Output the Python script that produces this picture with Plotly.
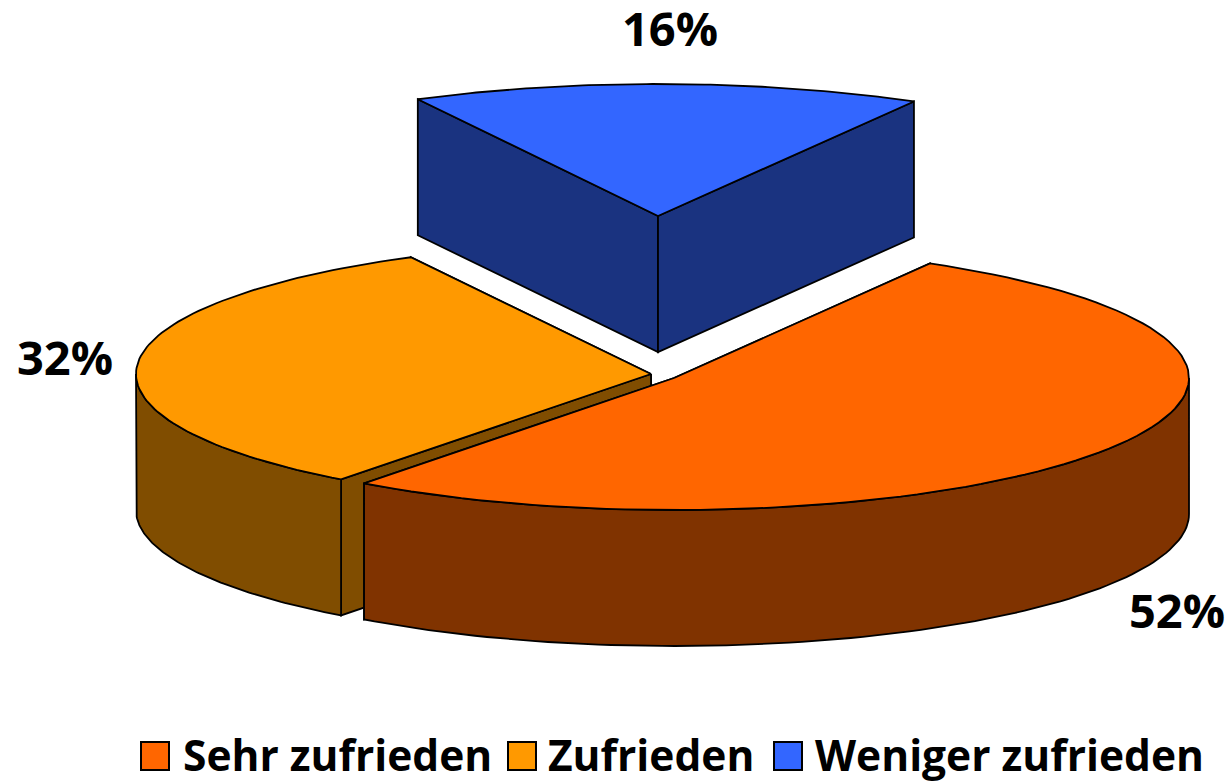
import numpy as np
import plotly.graph_objects as go

categories = ["Sehr zufrieden", "Zufrieden", "Weniger zufrieden"]
values = [52, 32, 16]
top_colors = ["#FF6600", "#FF9900", "#3366FF"]
wall_colors = ["#803300", "#804D00", "#1A3380"]

START_DEG = 29.8
RX, RY, DEPTH = 515, 132, 136
APEX = {"Sehr zufrieden": (674, 378), "Zufrieden": (651, 374), "Weniger zufrieden": (658, 216)}
LABEL_POS = {"Sehr zufrieden": (1177, 616), "Zufrieden": (65, 363), "Weniger zufrieden": (670, 34)}
LEGEND_SWATCH = {"Sehr zufrieden": 155, "Zufrieden": 522, "Weniger zufrieden": 788}
LEGEND_TEXT = {"Sehr zufrieden": 183, "Zufrieden": 548, "Weniger zufrieden": 815}
LEGEND_Y = 760
SWATCH_Y = 756
FONT = "Open Sans, Noto Sans, sans-serif"


def arc(cx, cy, a0, a1, n=90):
    th = np.radians(np.linspace(a0, a1, n))
    return cx + RX * np.sin(th), cy - RY * np.cos(th)


def poly(x, y, color):
    return go.Scatter(x=np.r_[x, x[0]], y=np.r_[y, y[0]], mode="lines", fill="toself",
                      fillcolor=color, line=dict(color="black", width=1.8),
                      hoverinfo="skip", showlegend=False)


spans = {}
a = START_DEG
for c, v in zip(categories, values):
    spans[c] = (a, a + v * 3.6)
    a += v * 3.6

fig = go.Figure()
for i in [2, 1, 0]:
    c = categories[i]
    a0, a1 = spans[c]
    cx, cy = APEX[c]
    wall, top = wall_colors[i], top_colors[i]
    xa, ya = arc(cx, cy, a0, a1)
    # cut faces: the one lying further back first
    for ang in sorted((a0, a1), key=lambda t: -np.cos(np.radians(t))):
        ex, ey = arc(cx, cy, ang, ang, 1)
        fx = np.array([cx, ex[0], ex[0], cx])
        fy = np.array([cy, ey[0], ey[0] + DEPTH, cy + DEPTH])
        fig.add_trace(poly(fx, fy, wall))
    # outer wall, only the part facing the viewer (90..270 degrees)
    lo, hi = max(a0, 90), min(a1, 270)
    if hi > lo:
        xw, yw = arc(cx, cy, lo, hi)
        fig.add_trace(poly(np.r_[xw, xw[::-1]], np.r_[yw, yw[::-1] + DEPTH], wall))
    fig.add_trace(poly(np.r_[cx, xa], np.r_[cy, ya], top))

for i, c in enumerate(categories):
    lx, ly = LABEL_POS[c]
    fig.add_trace(go.Scatter(x=[lx], y=[ly], mode="text", text=[f"{values[i]}%"],
                             textposition="middle center",
                             textfont=dict(family=FONT, size=47, color="black", weight="bold"),
                             hoverinfo="skip", showlegend=False))
    fig.add_trace(go.Scatter(x=[LEGEND_SWATCH[c]], y=[SWATCH_Y], mode="markers",
                             marker=dict(symbol="square", size=28, color=top_colors[i],
                                         line=dict(color="black", width=2)),
                             hoverinfo="skip", showlegend=False))
    fig.add_trace(go.Scatter(x=[LEGEND_TEXT[c]], y=[LEGEND_Y], mode="text", text=[c],
                             textposition="middle right",
                             textfont=dict(family=FONT, size=42.5, color="black", weight="bold"),
                             hoverinfo="skip", showlegend=False))

fig.update_layout(width=1232, height=782, margin=dict(l=0, r=0, t=0, b=0),
                  paper_bgcolor="white", plot_bgcolor="white", showlegend=False,
                  xaxis=dict(range=[0, 1232], visible=False, fixedrange=True),
                  yaxis=dict(range=[782, 0], visible=False, fixedrange=True))
fig.write_html("out.html", config={"displayModeBar": False},
               post_script="document.body.style.margin='0';document.documentElement.style.overflow='hidden';")
